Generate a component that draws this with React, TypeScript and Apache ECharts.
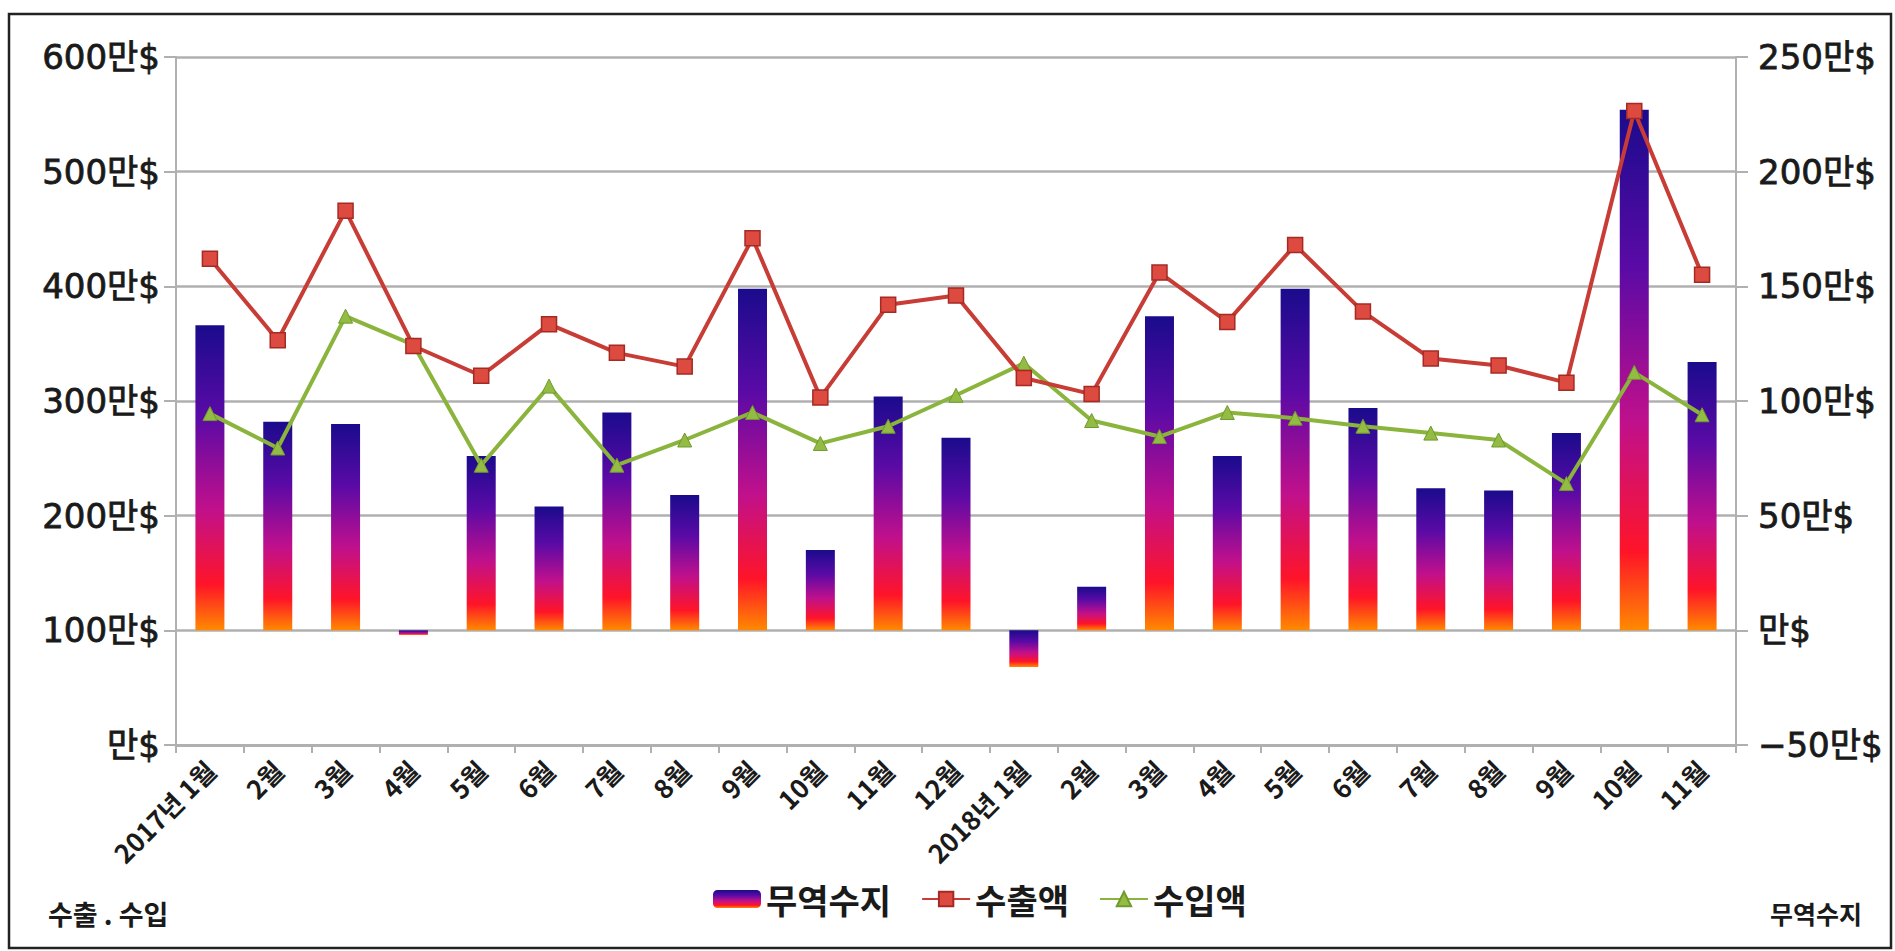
import React, { useEffect, useRef } from "react";
import * as echarts from "echarts";

const months = [
  "2017년 1월", "2월", "3월", "4월", "5월", "6월", "7월", "8월", "9월", "10월", "11월", "12월",
  "2018년 1월", "2월", "3월", "4월", "5월", "6월", "7월", "8월", "9월", "10월", "11월",
];

// 무역수지 (right axis, 만$)
const balance = [133, 91, 90, -2, 76, 54, 95, 59, 149, 35, 102, 84, -16, 19, 137, 76, 149, 97, 62, 61, 86, 227, 117];
// 수출액 (left axis, 만$)
const exports_ = [424, 353, 466, 348, 322, 367, 342, 330, 442, 303, 384, 392, 320, 306, 412, 369, 436, 378, 337, 331, 316, 553, 410];
// 수입액 (left axis, 만$)
const imports_ = [289, 259, 374, 349, 244, 313, 244, 266, 290, 263, 278, 305, 333, 283, 269, 290, 285, 278, 272, 266, 228, 325, 288];

const seriesNames = ["무역수지", "수출액", "수입액"];
const leftAxisTitle = "수출 . 수입";
const rightAxisTitle = "무역수지";

const FONT = '"Noto Sans CJK KR", "Noto Sans", sans-serif';
const NUMFONT = '"DejaVu Sans", "Noto Sans CJK KR", sans-serif';
const TEXT = "#1a1a1a";
const GRID = "#b0b0b0";

export default function App() {
  const ref = useRef<HTMLDivElement>(null);

  useEffect(() => {
    document.body.style.margin = "0";
    if (!ref.current) return;
    const chart = echarts.init(ref.current, undefined, { renderer: "svg" });

    const barGradient = new echarts.graphic.LinearGradient(0, 0, 0, 1, [
      { offset: 0, color: "#1a0b8c" },
      { offset: 0.3, color: "#5a0aa6" },
      { offset: 0.6, color: "#c0108c" },
      { offset: 0.85, color: "#ff1428" },
      { offset: 1, color: "#ff8a00" },
    ]);

    const fmtLeft = (v: number) => (v === 0 ? "만$" : `${v}만$`);
    const fmtRight = (v: number) => (v === 0 ? "만$" : v < 0 ? `\u2212${Math.abs(v)}만$` : `${v}만$`);

    const axisText = {
      fontFamily: NUMFONT,
      fontSize: 34,
      color: TEXT,
      textBorderColor: TEXT,
      textBorderWidth: 0.8,
    };

    chart.setOption({
      animation: false,
      backgroundColor: "#ffffff",
      textStyle: { fontFamily: FONT },
      grid: { left: 176, right: 159, top: 57, bottom: 206, containLabel: false },
      legend: {
        data: seriesNames,
        left: 708,
        top: 877,
        itemWidth: 48,
        itemHeight: 18,
        itemGap: 30,
        textStyle: { fontFamily: FONT, fontSize: 34, fontWeight: "bold", color: TEXT },
      },
      xAxis: {
        type: "category",
        data: months,
        boundaryGap: true,
        axisLine: { show: true, onZero: false, lineStyle: { color: GRID, width: 3 } },
        axisTick: { show: true, length: 8, lineStyle: { color: GRID, width: 2 } },
        axisLabel: {
          interval: 0,
          rotate: 45,
          margin: 20,
          fontFamily: FONT,
          fontSize: 26,
          fontWeight: "bold",
          color: TEXT,
        },
      },
      yAxis: [
        {
          type: "value",
          position: "left",
          min: 0,
          max: 600,
          interval: 100,
          axisLine: { show: true, lineStyle: { color: GRID, width: 2 } },
          axisTick: { show: true, length: 12, lineStyle: { color: GRID, width: 2 } },
          splitLine: { show: true, lineStyle: { color: GRID, width: 2.5 } },
          axisLabel: { formatter: fmtLeft, margin: 16, ...axisText },
        },
        {
          type: "value",
          position: "right",
          min: -50,
          max: 250,
          interval: 50,
          axisLine: { show: true, lineStyle: { color: GRID, width: 2 } },
          axisTick: { show: true, length: 12, lineStyle: { color: GRID, width: 2 } },
          splitLine: { show: false },
          axisLabel: { formatter: fmtRight, margin: 22, ...axisText },
        },
      ],
      series: [
        {
          name: seriesNames[0],
          type: "bar",
          yAxisIndex: 1,
          data: balance,
          barWidth: 29,
          itemStyle: { color: barGradient },
          z: 1,
        },
        {
          name: seriesNames[1],
          type: "line",
          yAxisIndex: 0,
          data: exports_,
          symbol: "rect",
          symbolSize: 15,
          lineStyle: { color: "#c83c36", width: 4 },
          itemStyle: { color: "#dc4a40", borderColor: "#a52a24", borderWidth: 1.5 },
          z: 4,
        },
        {
          name: seriesNames[2],
          type: "line",
          yAxisIndex: 0,
          data: imports_,
          symbol: "triangle",
          symbolSize: 14,
          lineStyle: { color: "#8ab43c", width: 4 },
          itemStyle: { color: "#94bc44", borderColor: "#6f9a2c", borderWidth: 1 },
          z: 3,
        },
      ],
      graphic: [
        {
          type: "rect",
          shape: { x: 9, y: 14, width: 1882, height: 934 },
          style: { fill: "none", stroke: "#222222", lineWidth: 2.5 },
          silent: true,
          z: 100,
        },
        {
          type: "text",
          left: 48,
          top: 900,
          style: { text: leftAxisTitle, fontFamily: FONT, fontSize: 27, fontWeight: "bold", fill: TEXT },
        },
        {
          type: "text",
          left: 1770,
          top: 900,
          style: { text: rightAxisTitle, fontFamily: FONT, fontSize: 25, fontWeight: "bold", fill: TEXT },
        },
      ],
    });

    return () => chart.dispose();
  }, []);

  return <div ref={ref} style={{ width: 1895, height: 951 }} />;
}
